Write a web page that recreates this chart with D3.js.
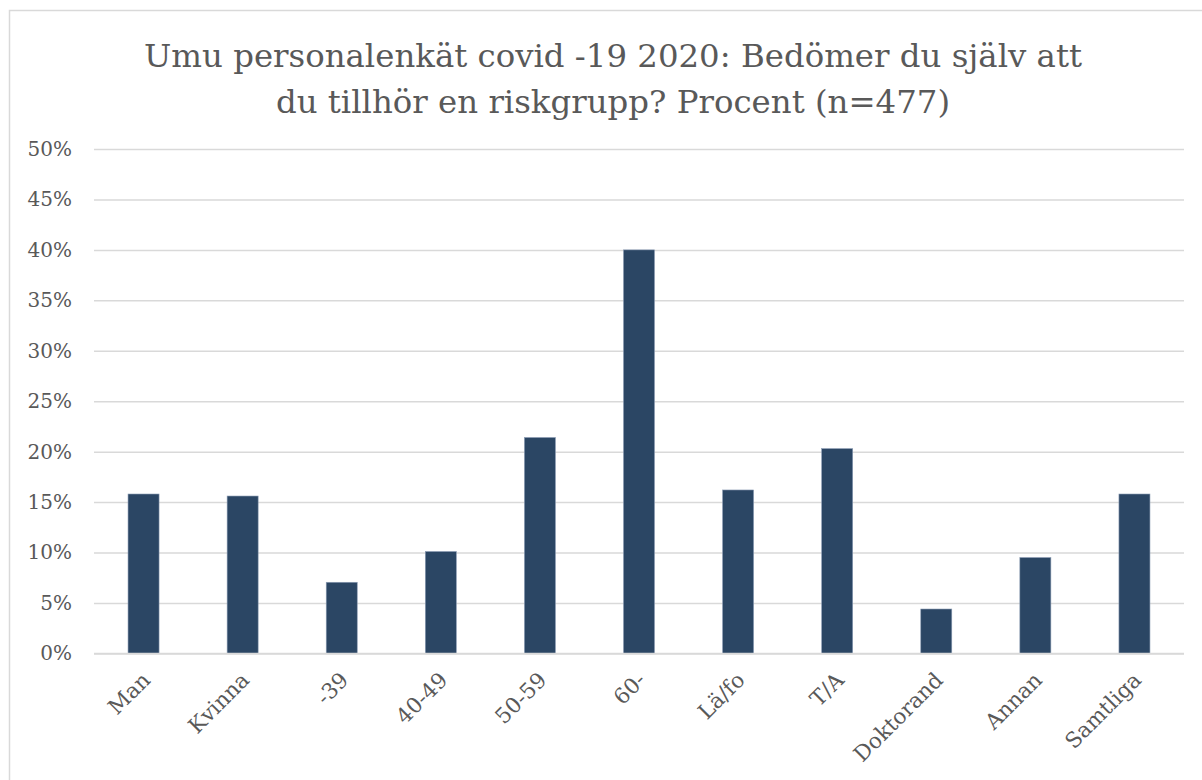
<!DOCTYPE html>
<html>
<head>
<meta charset="utf-8">
<script src="https://cdn.jsdelivr.net/npm/d3@7"></script>
<style>
  html, body { margin: 0; padding: 0; background: #fff; }
  svg { display: block; }
  text { font-family: "DejaVu Serif", Georgia, serif; fill: #595959; }
</style>
</head>
<body>
<svg id="chart" width="1202" height="780"></svg>
<script>
const titleLines = ["Umu personalenkät covid -19 2020: Bedömer du själv att", "du tillhör en riskgrupp? Procent (n=477)"];
const categories = ["Man", "Kvinna", "-39", "40-49", "50-59", "60-", "Lä/fo", "T/A", "Doktorand", "Annan", "Samtliga"];
const values = [15.8, 15.6, 7.05, 10.1, 21.4, 40.0, 16.2, 20.3, 4.4, 9.5, 15.8];
const yTicks = [0, 5, 10, 15, 20, 25, 30, 35, 40, 45, 50];

const svg = d3.select("#chart");
const plot = { left: 94, right: 1184, top: 149, bottom: 653.4 };

// chart area border
svg.append("rect")
  .attr("x", 9.5).attr("y", 10.5)
  .attr("width", 1200).attr("height", 800)
  .attr("fill", "#fff").attr("stroke", "#d9d9d9").attr("stroke-width", 1.5);

const x = d3.scaleBand().domain(categories).range([plot.left, plot.right]).paddingInner(0.687).paddingOuter(0.3435);
const y = d3.scaleLinear().domain([0, 50]).range([plot.bottom, plot.top]);

// gridlines
const grid = d3.axisLeft(y).tickValues(yTicks).tickSize(-(plot.right - plot.left)).tickFormat("");
const gg = svg.append("g").attr("transform", `translate(${plot.left},0)`).call(grid);
gg.select(".domain").remove();
gg.selectAll("line").attr("stroke", "#d9d9d9").attr("stroke-width", 1.5);

// y labels
const yAxis = d3.axisLeft(y).tickValues(yTicks).tickSize(0).tickPadding(22).tickFormat(d => d + "%");
const ya = svg.append("g").attr("transform", `translate(${plot.left},0)`).call(yAxis);
ya.select(".domain").remove();
ya.selectAll("text").attr("font-size", 20).attr("fill", "#595959")
  .style("font-family", '"DejaVu Serif", Georgia, serif');

// bars
svg.append("g").selectAll("rect").data(values).join("rect")
  .attr("x", (d, i) => x(categories[i]))
  .attr("y", d => y(d))
  .attr("width", x.bandwidth())
  .attr("height", d => y(0) - y(d))
  .attr("fill", "#2b4664")
  .attr("stroke", "#8a9bb3").attr("stroke-width", 0.6);

// x axis line (on top)
svg.append("line").attr("x1", plot.left).attr("x2", plot.right)
  .attr("y1", y(0)).attr("y2", y(0)).attr("stroke", "#d9d9d9").attr("stroke-width", 1.5);

// x labels
const xAxis = d3.axisBottom(x).tickSize(0).tickPadding(0);
const xa = svg.append("g").attr("transform", `translate(0,${plot.bottom})`).call(xAxis);
xa.select(".domain").remove();
xa.selectAll("text")
  .attr("font-size", 21.5)
  .attr("fill", "#595959")
  .style("font-family", '"DejaVu Serif", Georgia, serif')
  .attr("text-anchor", "end")
  .attr("dy", null)
  .attr("y", 0)
  .attr("transform", "translate(8,28) rotate(-45)");

// title
const t = svg.append("text").attr("text-anchor", "middle").attr("font-size", 32.4);
titleLines.forEach((line, i) => {
  t.append("tspan").attr("x", 613).attr("y", 67 + i * 46).text(line);
});
</script>
</body>
</html>
